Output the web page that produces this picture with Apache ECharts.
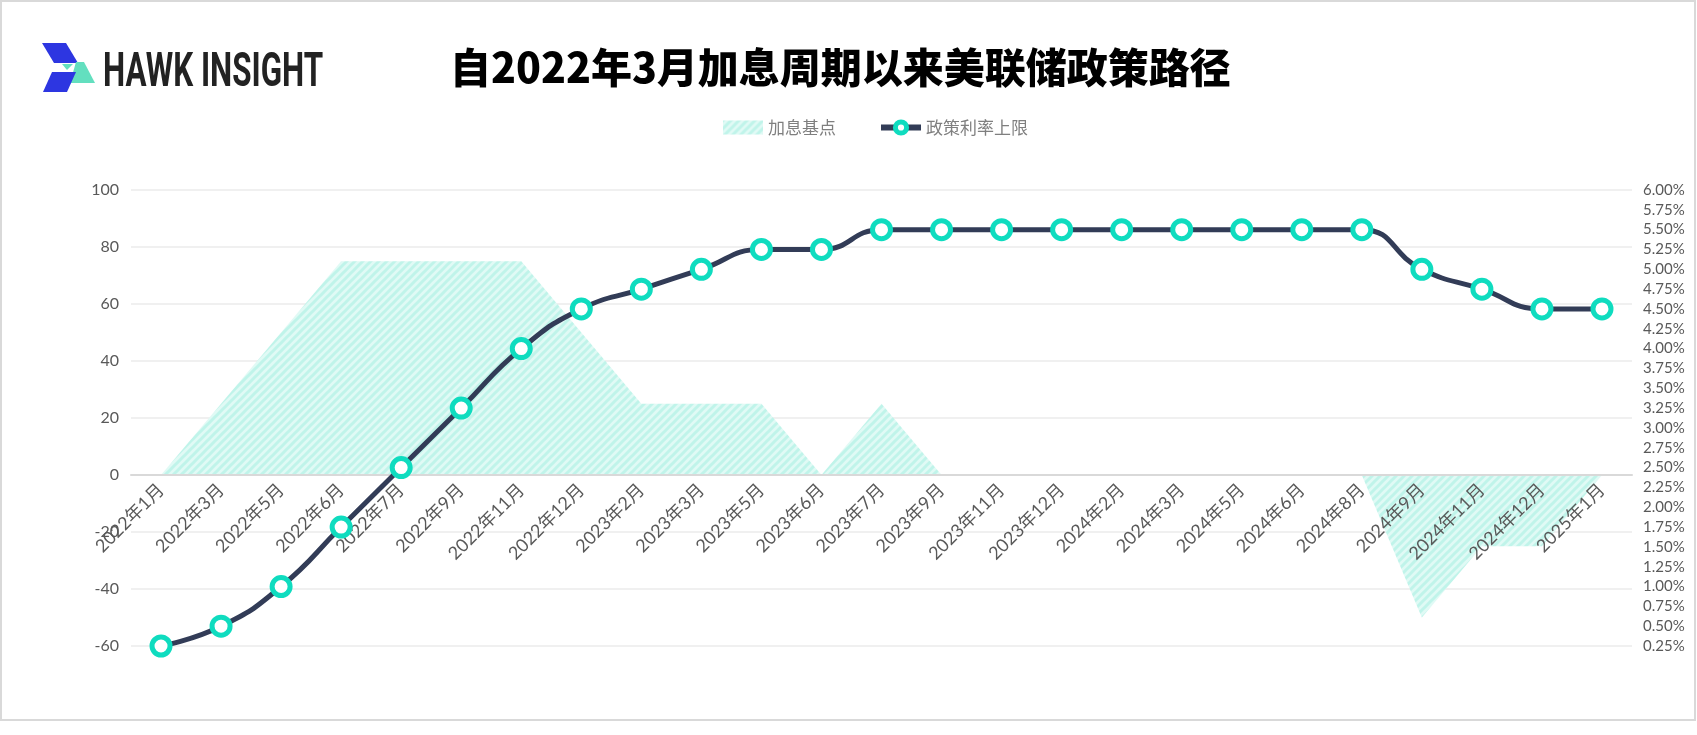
<!DOCTYPE html>
<html>
<head>
<meta charset="utf-8">
<script src="https://cdn.jsdelivr.net/npm/echarts@6/dist/echarts.min.js"></script>
<style>
html,body{margin:0;padding:0;background:#fff;}
#chart{width:1697px;height:735px;}
</style>
</head>
<body>
<div id="chart"></div>
<script>
const categories = ['2022年1月','2022年3月','2022年5月','2022年6月','2022年7月','2022年9月','2022年11月','2022年12月','2023年2月','2023年3月','2023年5月','2023年6月','2023年7月','2023年9月','2023年11月','2023年12月','2024年2月','2024年3月','2024年5月','2024年6月','2024年8月','2024年9月','2024年11月','2024年12月','2025年1月'];
const hikeBps = [0,25,50,75,75,75,75,50,25,25,25,0,25,0,0,0,0,0,0,0,0,-50,-25,-25,0];
const rateCap = [0.25,0.50,1.00,1.75,2.50,3.25,4.00,4.50,4.75,5.00,5.25,5.25,5.50,5.50,5.50,5.50,5.50,5.50,5.50,5.50,5.50,5.00,4.75,4.50,4.50];
const seriesNames = ['加息基点','政策利率上限'];
const titleText = '自2022年3月加息周期以来美联储政策路径';
const logoText = 'HAWK INSIGHT';
const bpsMin = -60, bpsMax = 100, bpsStep = 20;
const rateMin = 0.25, rateMax = 6, rateStep = 0.25;

function makePattern(){
  const c = document.createElement('canvas');
  c.width = 8; c.height = 8;
  const ctx = c.getContext('2d');
  ctx.fillStyle = '#e0faf5';
  ctx.fillRect(0,0,8,8);
  ctx.strokeStyle = '#c0f4ea';
  ctx.lineWidth = 3;
  ctx.beginPath();
  ctx.moveTo(-2,10); ctx.lineTo(10,-2);
  ctx.moveTo(-6,6); ctx.lineTo(6,-6);
  ctx.moveTo(2,14); ctx.lineTo(14,2);
  ctx.stroke();
  return c;
}
const pattern = {image: makePattern(), repeat: 'repeat'};

// layout of the main plotting grid
const G = {left: 131, right: 65, top: 190, bottom: 89};
const plotH = 735 - G.top - G.bottom;
// a label grid whose bottom edge sits on the value 0 of the left axis
const zeroY = G.top + plotH * (bpsMax - 0) / (bpsMax - bpsMin);

const chart = echarts.init(document.getElementById('chart'));
const labelFont = 'Lato, "Noto Sans CJK SC", sans-serif';
chart.setOption({
  backgroundColor: '#fff',
  animation: false,
  title: {
    text: titleText,
    left: 445, top: 42,
    textStyle: {fontSize: 41, fontWeight: 900, color: '#000', fontFamily: '"Noto Sans CJK SC", sans-serif',
      textShadowColor: 'rgba(0,0,0,0.35)', textShadowOffsetX: 2, textShadowOffsetY: 2, textShadowBlur: 0}
  },
  graphic: [
    {type: 'rect', shape: {x: 1, y: 1, width: 1694, height: 719}, style: {fill: 'none', stroke: '#d9d9d9', lineWidth: 2}, silent: true},
    {type: 'polygon', shape: {points: [[42,43],[66,43],[78,63],[54,63]]}, style: {fill: '#2d36e1'}},
    {type: 'polygon', shape: {points: [[76,62],[84,62],[95,83],[70,83]]}, style: {fill: '#63dfbf'}},
    {type: 'polygon', shape: {points: [[62,64],[73,64],[67,70]]}, style: {fill: '#63dfbf'}},
    {type: 'polygon', shape: {points: [[52,72],[76,72],[67,92],[43,92]]}, style: {fill: '#2d36e1'}},
    {type: 'text', x: 103, y: 49, scaleX: 0.64, style: {text: logoText, font: 'bold 49px Roboto, sans-serif', fill: '#222', textVerticalAlign: 'top'}}
  ],
  legend: {
    left: 718, top: 114,
    itemGap: 42, itemWidth: 40, itemHeight: 14,
    textStyle: {fontSize: 17, color: '#7f7f7f', fontFamily: '"Noto Sans CJK SC", sans-serif'},
    data: [
      {name: seriesNames[0], icon: 'rect', itemStyle: {color: pattern, borderWidth: 0}},
      {name: seriesNames[1], lineStyle: {width: 6, color: '#323c57'}, itemStyle: {color: '#ffffff', borderColor: '#0fdcbf', borderWidth: 5}}
    ]
  },
  grid: [
    {left: G.left, right: G.right, top: G.top, bottom: G.bottom, containLabel: false},
    {left: G.left, right: G.right, top: G.top, bottom: 735 - zeroY, containLabel: false}
  ],
  xAxis: [
    {
      type: 'category', gridIndex: 0, data: categories, boundaryGap: true,
      axisLine: {show: false}, axisTick: {show: false}, axisLabel: {show: false}
    },
    {
      type: 'category', gridIndex: 1, data: categories, boundaryGap: true,
      axisLine: {show: true, onZero: false, lineStyle: {color: '#d9d9d9', width: 2}},
      axisTick: {show: false},
      axisLabel: {rotate: 45, interval: 0, fontSize: 18, color: '#595959', margin: 12, fontFamily: labelFont},
      z: 5
    }
  ],
  yAxis: [
    {
      type: 'value', gridIndex: 0, min: bpsMin, max: bpsMax, interval: bpsStep,
      axisLine: {show: false}, axisTick: {show: false},
      axisLabel: {fontSize: 16, color: '#595959', margin: 12, fontFamily: labelFont},
      splitLine: {lineStyle: {color: '#f0f0f0', width: 2}}
    },
    {
      type: 'value', gridIndex: 0, min: rateMin, max: rateMax, interval: rateStep, position: 'right',
      axisLine: {show: false}, axisTick: {show: false},
      axisLabel: {fontSize: 15, color: '#595959', margin: 11, fontFamily: labelFont, formatter: v => v.toFixed(2) + '%'},
      splitLine: {show: false}
    },
    {
      type: 'value', gridIndex: 1, min: 0, max: bpsMax, show: false
    }
  ],
  series: [
    {
      name: seriesNames[0], type: 'line', xAxisIndex: 0, yAxisIndex: 0,
      data: hikeBps, symbol: 'none', smooth: false,
      lineStyle: {width: 0, opacity: 0},
      itemStyle: {color: '#c3f5ec'},
      areaStyle: {color: pattern, opacity: 1},
      z: 1
    },
    {
      name: seriesNames[1], type: 'line', xAxisIndex: 0, yAxisIndex: 1,
      data: rateCap, smooth: true,
      symbol: 'circle', symbolSize: 18, showSymbol: true,
      lineStyle: {color: '#323c57', width: 5},
      itemStyle: {color: '#ffffff', borderColor: '#0fdcbf', borderWidth: 5},
      z: 10
    }
  ]
});
</script>
</body>
</html>
